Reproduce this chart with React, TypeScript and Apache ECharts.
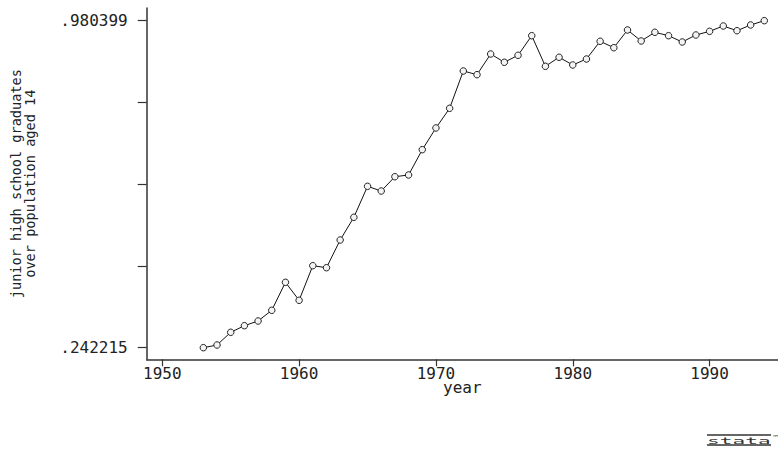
import React, { useEffect, useRef } from "react";
import * as echarts from "echarts";

const years: number[] = [
  1953, 1954, 1955, 1956, 1957, 1958, 1959, 1960, 1961, 1962, 1963, 1964, 1965, 1966,
  1967, 1968, 1969, 1970, 1971, 1972, 1973, 1974, 1975, 1976, 1977, 1978, 1979, 1980,
  1981, 1982, 1983, 1984, 1985, 1986, 1987, 1988, 1989, 1990, 1991, 1992, 1993, 1994,
];
const ratio: number[] = [
  0.242215, 0.2483, 0.277, 0.2919, 0.3025, 0.3266, 0.3898, 0.3492, 0.4273, 0.4228,
  0.4853, 0.5366, 0.6065, 0.5959, 0.6282, 0.6321, 0.6892, 0.7382, 0.7826, 0.8668,
  0.8585, 0.9052, 0.8865, 0.9023, 0.9465, 0.8774, 0.8978, 0.8804, 0.8939, 0.9339,
  0.9194, 0.9594, 0.9346, 0.9542, 0.9465, 0.9323, 0.9481, 0.9564, 0.9684, 0.9578,
  0.9707, 0.980399,
];
const xTicks: number[] = [1950, 1960, 1970, 1980, 1990];
const yTicks: number[] = [0.242215, 0.426761, 0.611307, 0.795853, 0.980399];
const yLabels: number[] = [0.242215, 0.980399];

const MONO = "DejaVu Sans Mono";
const TXT = "#222";

export default function App() {
  const ref = useRef<HTMLDivElement>(null);
  useEffect(() => {
    if (!ref.current) return;
    const chart = echarts.init(ref.current, null, { renderer: "svg" });
    chart.setOption({
      animation: false,
      backgroundColor: "#ffffff",
      grid: { left: 146.7, top: 8, right: 0, bottom: 91.7, containLabel: false },
      xAxis: {
        type: "value",
        min: 1948.86,
        max: 1995.0,
        name: "year",
        nameLocation: "middle",
        nameGap: 20,
        nameMoveOverlap: false,
        nameTextStyle: { fontFamily: MONO, fontSize: 16, color: TXT },
        axisLine: { show: true, lineStyle: { color: "#333", width: 1.5 } },
        axisTick: { show: true, length: 7, customValues: xTicks, lineStyle: { color: "#333", width: 1.2 } },
        axisLabel: {
          customValues: xTicks,
          margin: 6,
          fontFamily: MONO,
          fontSize: 16,
          color: TXT,
          formatter: (v: number) => String(v),
        },
        splitLine: { show: false },
      },
      yAxis: {
        type: "value",
        min: 0.21603,
        max: 1.00903,
        name: "junior high school graduates\nover population aged 14",
        nameLocation: "middle",
        nameRotate: 90,
        nameGap: 110,
        nameMoveOverlap: false,
        nameTextStyle: { fontFamily: MONO, fontSize: 13.6, color: TXT, lineHeight: 14, align: "center" },
        axisLine: { show: true, lineStyle: { color: "#333", width: 1.5 } },
        axisTick: { show: true, length: 9, customValues: yTicks, lineStyle: { color: "#333", width: 1.2 } },
        axisLabel: {
          customValues: yLabels,
          margin: 19,
          fontFamily: MONO,
          fontSize: 16,
          color: TXT,
          formatter: (v: number) => v.toFixed(6).replace(/^0/, ""),
        },
        splitLine: { show: false },
      },
      series: [
        {
          type: "line",
          data: years.map((y, i) => [y, ratio[i]]),
          symbol: "circle",
          symbolSize: 6.5,
          showSymbol: true,
          lineStyle: { color: "#111", width: 1 },
          itemStyle: { color: "#f4f4f4", borderColor: "#222", borderWidth: 1 },
        },
      ],
      graphic: [
        { type: "line", shape: { x1: 707, y1: 435, x2: 771, y2: 435 }, style: { stroke: "#333", lineWidth: 1.5 } },
        {
          type: "text",
          x: 707,
          y: 440.5,
          scaleX: 2.35,
          style: {
            text: "stata",
            font: "9px 'DejaVu Sans Mono'",
            fill: "#333",
            verticalAlign: "middle",
          },
        },
        { type: "line", shape: { x1: 707, y1: 445, x2: 771, y2: 445 }, style: { stroke: "#333", lineWidth: 1.5 } },
        { type: "text", x: 772, y: 434, style: { text: "™", font: "7px 'DejaVu Sans'", fill: "#333" } },
      ],
    });
    return () => chart.dispose();
  }, []);
  return (
    <div
      ref={ref}
      style={{ position: "absolute", left: 0, top: 0, width: 778, height: 451 }}
    />
  );
}
